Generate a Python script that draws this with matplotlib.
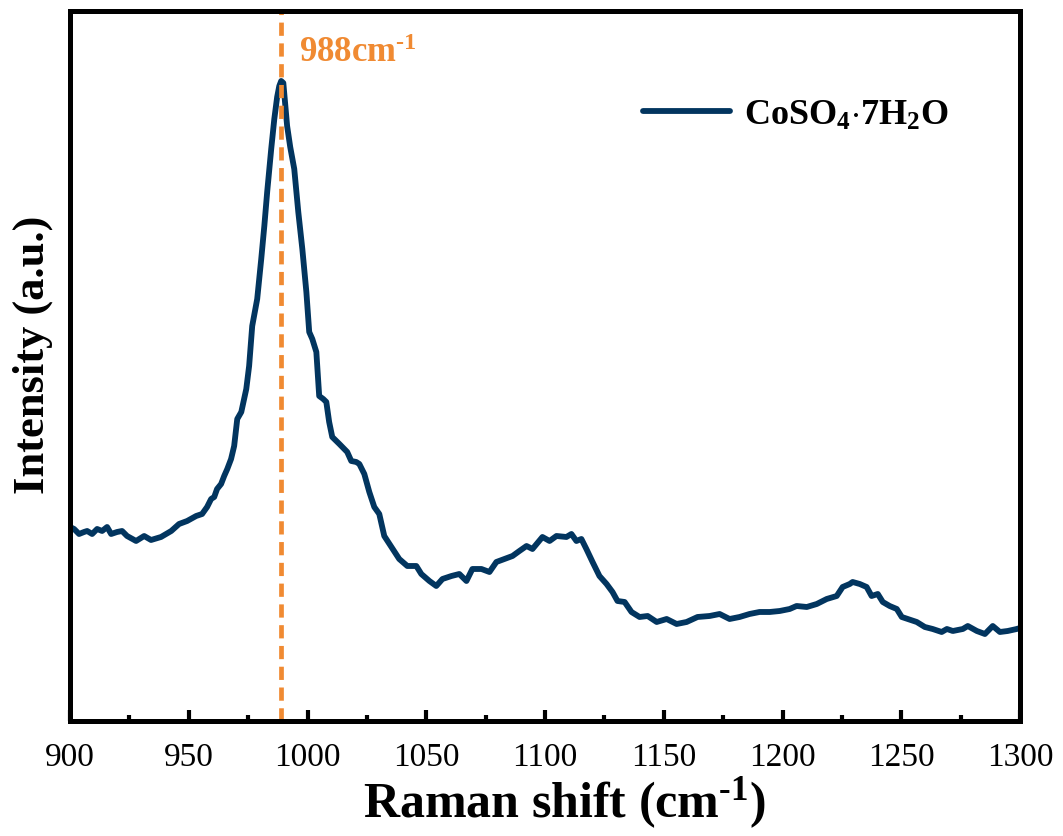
import matplotlib
matplotlib.use("Agg")
import matplotlib.pyplot as plt
from matplotlib.ticker import MultipleLocator

plt.rcParams['font.family'] = ['Liberation Serif', 'DejaVu Serif']
plt.rcParams['mathtext.fontset'] = 'custom'
plt.rcParams['mathtext.rm'] = 'Liberation Serif'
plt.rcParams['mathtext.bf'] = 'Liberation Serif:bold'
plt.rcParams['mathtext.it'] = 'Liberation Serif:italic'

# Raman spectrum (arbitrary intensity units)
shift = [900.0, 901.7, 903.8, 905.9, 907.2, 909.3, 911.4, 913.5, 915.6, 917.3,
         919.8, 921.9, 924.0, 927.8, 931.2, 934.1, 938.3, 942.6, 945.9, 949.3,
         953.1, 955.6, 957.7, 959.4, 960.7, 961.9, 963.6, 964.9, 966.2, 967.8,
         969.1, 970.4, 972.1, 974.2, 975.4, 976.7, 978.8, 980.5, 981.8, 983.0,
         984.7, 986.0, 987.2, 988.1, 988.9, 989.8, 990.6, 991.4, 992.7, 994.4,
         996.1, 997.8, 999.5, 1000.7, 1002.0, 1003.7, 1004.9, 1006.6, 1007.9, 1009.1,
         1010.4, 1013.4, 1016.7, 1018.4, 1020.5, 1021.8, 1023.9, 1026.0, 1028.1, 1030.2,
         1032.3, 1035.3, 1038.6, 1042.0, 1045.8, 1047.9, 1051.3, 1054.2, 1056.8, 1060.6,
         1063.9, 1066.9, 1069.4, 1073.2, 1076.6, 1079.5, 1082.9, 1086.3, 1089.2, 1092.2,
         1094.7, 1098.9, 1101.9, 1104.8, 1109.0, 1111.1, 1113.2, 1115.3, 1117.4, 1120.0,
         1122.9, 1125.9, 1128.4, 1130.5, 1133.5, 1136.4, 1139.8, 1143.2, 1147.0, 1151.2,
         1155.4, 1159.6, 1164.2, 1169.3, 1173.5, 1177.7, 1181.9, 1186.1, 1190.3, 1194.6,
         1198.8, 1203.0, 1205.9, 1210.2, 1214.4, 1218.6, 1222.8, 1225.3, 1228.3, 1229.5,
         1232.5, 1235.4, 1237.5, 1240.1, 1242.2, 1245.1, 1248.1, 1250.2, 1252.7, 1256.5,
         1259.9, 1263.2, 1267.0, 1269.2, 1271.7, 1275.9, 1278.0, 1281.8, 1285.2, 1288.5,
         1291.5, 1294.8, 1298.6, 1300.0]
intensity = [194, 192, 187, 189, 190, 187, 192, 190, 194, 187,
             189, 190, 185, 180, 185, 181, 184, 190, 197, 200,
             205, 207, 214, 222, 224, 232, 237, 245, 252, 262,
             275, 302, 309, 332, 355, 395, 422, 462, 495, 529,
             572, 602, 624, 635, 640, 638, 617, 595, 574, 552,
             509, 472, 429, 389, 382, 369, 325, 322, 319, 299,
             284, 277, 269, 260, 259, 257, 247, 229, 214, 207,
             185, 174, 162, 155, 155, 147, 140, 135, 142, 145,
             147, 140, 152, 152, 149, 159, 162, 165, 170, 175,
             172, 184, 180, 185, 184, 187, 180, 182, 172, 159,
             145, 137, 129, 120, 119, 109, 104, 105, 99, 102,
             97, 99, 104, 105, 107, 102, 104, 107, 109, 109,
             110, 112, 115, 114, 117, 122, 125, 134, 137, 139,
             137, 134, 125, 127, 119, 115, 112, 104, 102, 99,
             94, 92, 89, 92, 90, 92, 95, 90, 87, 95,
             89, 90, 92, 93]

peak_pos = 989
peak_label = '988cm$^{\\mathbf{\u20101}}$'
legend_label = r'$\mathbf{CoSO_4{\cdot}7H_2O}$'

fig = plt.figure(figsize=(10.63, 8.37), dpi=100)
ax = fig.add_axes([0.0659, 0.1374, 0.8937, 0.8483])

ax.plot(shift, intensity, color='#02355F', lw=4.2, label=legend_label,
        solid_capstyle='round', solid_joinstyle='round')
ax.axvline(peak_pos, color='#F08A32', lw=3.4, dashes=(2.8, 1.6))
ax.text(996.5, 668, peak_label, color='#F08A32', fontsize=25,
        fontweight='bold', ha='left', va='center')

ax.set_xlim(900, 1300)
ax.set_ylim(0, 710)
ax.set_yticks([])
ax.xaxis.set_major_locator(MultipleLocator(50))
ax.xaxis.set_minor_locator(MultipleLocator(25))
ax.tick_params(axis='x', which='major', direction='in', length=8, width=3,
               labelsize=24, pad=15)
ax.tick_params(axis='x', which='minor', direction='in', length=4, width=3)
for s in ax.spines.values():
    s.set_linewidth(3.6)

ax.set_xlabel('Raman shift (cm$^{\\mathbf{\u20101}}$)', fontsize=36,
              fontweight='bold')
ax.xaxis.set_label_coords(0.52, -0.075)
ax.set_ylabel('Intensity (a.u.)', fontsize=32, fontweight='bold')
ax.yaxis.set_label_coords(-0.018, 0.517)

ax.legend(loc='center left', bbox_to_anchor=(0.584, 0.853), frameon=False,
          fontsize=26, borderpad=0, handlelength=2.4, handletextpad=0.4)

fig.savefig('out.png', dpi=100)
